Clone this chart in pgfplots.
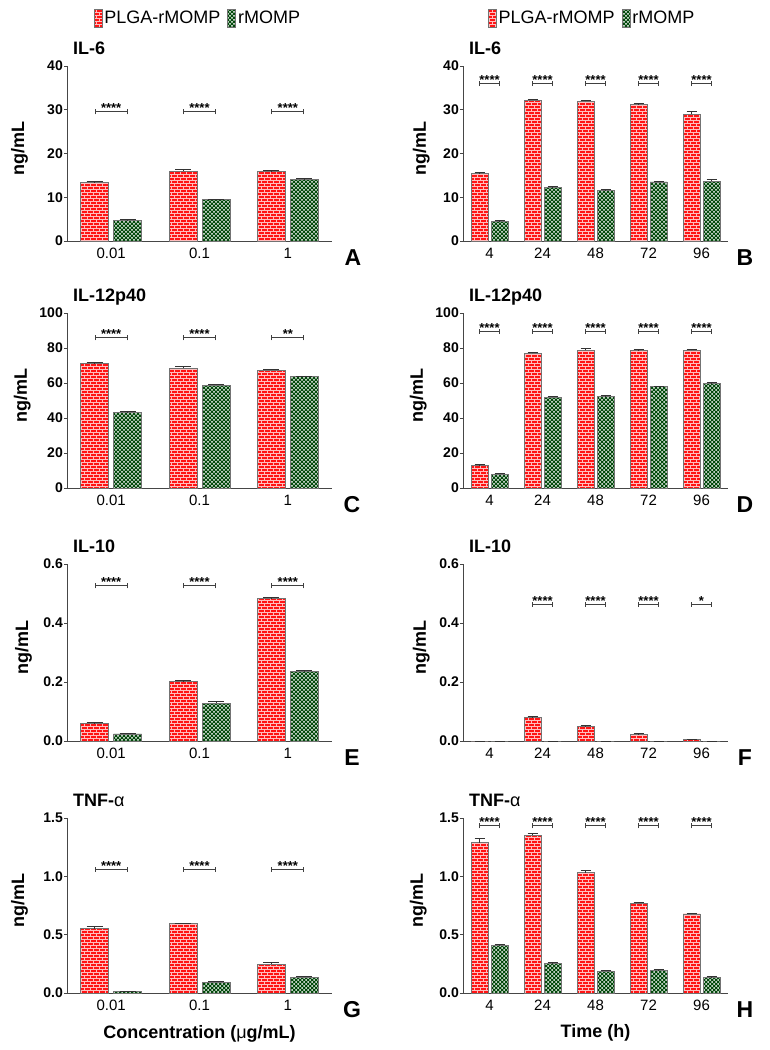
\documentclass[border=0pt]{standalone}
\usepackage{fontspec}
\setmainfont{Liberation Sans}
\usepackage{pgfplots}
\pgfplotsset{compat=1.18}
\usetikzlibrary{patterns}

\definecolor{myred}{RGB}{255,20,20}
\definecolor{mortar}{RGB}{255,190,190}
\definecolor{mygreen}{RGB}{0,72,10}
\definecolor{outl}{RGB}{115,115,115}
\definecolor{axgray}{RGB}{70,70,70}

% brick pattern for PLGA-rMOMP
\pgfdeclarepatternformonly{brk}{\pgfpoint{-0.5pt}{-0.5pt}}{\pgfpoint{6.5pt}{6.5pt}}{\pgfpoint{6pt}{6pt}}{%
  \pgfsetlinewidth{0.6pt}%
  \pgfpathmoveto{\pgfpoint{0pt}{0pt}}\pgfpathlineto{\pgfpoint{6pt}{0pt}}%
  \pgfpathmoveto{\pgfpoint{0pt}{3pt}}\pgfpathlineto{\pgfpoint{6pt}{3pt}}%
  \pgfpathmoveto{\pgfpoint{0pt}{0pt}}\pgfpathlineto{\pgfpoint{0pt}{3pt}}%
  \pgfpathmoveto{\pgfpoint{3pt}{3pt}}\pgfpathlineto{\pgfpoint{3pt}{6pt}}%
  \pgfusepath{stroke}}
% dotted lattice for rMOMP
\pgfdeclarepatternformonly{gdots}{\pgfpoint{-1.2pt}{-1.2pt}}{\pgfpoint{3.2pt}{3.2pt}}{\pgfpoint{4pt}{4pt}}{%
  \pgfpathcircle{\pgfpoint{0pt}{0pt}}{1pt}%
  \pgfpathcircle{\pgfpoint{2pt}{2pt}}{1pt}%
  \pgfusepath{fill}}

\pgfplotsset{
  panel/.style={
    scale only axis, width=265pt, height=175pt, anchor=north west,
    axis lines=left, axis line style={-, line width=1pt, color=axgray},
    clip=false, ymin=0, scaled y ticks=false,
    tick align=outside, major tick length=3pt,
    ytick style={line width=1pt, color=axgray},
    xtick style={draw=none},
    /pgf/number format/assume math mode=true,
    yticklabel style={font=\bfseries\fontsize{14}{14}\selectfont, inner sep=1pt},
    xticklabel style={font=\fontsize{15}{15}\selectfont, inner sep=0pt, yshift=-4pt},
    title style={at={(0,1)}, anchor=base west, xshift=6pt, yshift=6pt, inner sep=0pt,
      font=\bfseries\fontsize{18}{18}\selectfont},
    ylabel={ng/mL},
    ylabel style={font=\bfseries\fontsize{18}{18}\selectfont, anchor=south, inner sep=0pt},
    error bars/y dir=plus, error bars/y explicit,
    error bars/error bar style={line width=1pt, color=black!80},
  },
  conc/.style={panel, ybar=5pt, bar width=28pt, xmin=-0.5, xmax=2.5, xtick={0,1,2}, xticklabels={0.01,0.1,1},
    error bars/error mark options={rotate=90, mark size=8pt, line width=1pt, color=black!80}},
  time/.style={panel, ybar=3pt, bar width=17pt, xmin=-0.5, xmax=4.5, xtick={0,1,2,3,4}, xticklabels={4,24,48,72,96},
    error bars/error mark options={rotate=90, mark size=5pt, line width=1pt, color=black!80}},
  dec/.style={yticklabel style={/pgf/number format/.cd, fixed, fixed zerofill, precision=1}},
  redbar/.style={fill=myred, draw=outl, line width=0.8pt,
    postaction={pattern=brk, pattern color=mortar},
    legend image code/.code={\draw[##1] (0pt,-9pt) rectangle (8pt,9pt);}},
  greenbar/.style={fill=mygreen, draw=outl, line width=0.8pt,
    postaction={pattern=gdots, pattern color=white},
    legend image code/.code={\draw[##1] (0pt,-9pt) rectangle (8pt,9pt);}},
  leg/.style={legend style={legend columns=2, draw=none, fill=none, at={(axis description cs:#1,1.274)},
    anchor=center, font=\fontsize{18}{18}\selectfont, inner sep=0pt,
    /tikz/every even column/.append style={column sep=5pt}}},
}

\tikzset{sigline/.style={line width=1pt, color=black!75}}
% significance bracket: category, height, stars, half width
\newcommand\sig[4]{%
  \draw[sigline] ([xshift=-#4]axis cs:#1,#2) -- ([xshift=#4]axis cs:#1,#2);
  \draw[sigline] ([xshift=-#4,yshift=-2.5pt]axis cs:#1,#2) -- ([xshift=-#4,yshift=2.5pt]axis cs:#1,#2);
  \draw[sigline] ([xshift=#4,yshift=-2.5pt]axis cs:#1,#2) -- ([xshift=#4,yshift=2.5pt]axis cs:#1,#2);
  \node[anchor=base, inner sep=0pt, font=\bfseries\fontsize{13}{13}\selectfont] at ([yshift=-1pt]axis cs:#1,#2) {#3};}

\newcommand\panelletter[2]{\node[font=\bfseries\fontsize{23}{23}\selectfont, inner sep=0pt] at ([xshift=#2,yshift=-17pt]axis description cs:1,0) {#1};}

\begin{document}
\begin{tikzpicture}
\path[use as bounding box] (0pt,0pt) rectangle (769pt,-1050pt);

% ---------- A : IL-6, concentration ----------
\begin{axis}[conc, at={(67pt,-66pt)}, title={IL-6}, ymax=40, ytick={0,10,20,30,40},
  ylabel style={at={(axis description cs:-0.147,0.53)}}, leg=0.494]
\addplot[redbar] coordinates {(0,13.3) +- (0,0.3) (1,16.0) +- (0,0.25) (2,15.8) +- (0,0.35)};
\addplot[greenbar] coordinates {(0,4.7) +- (0,0.15) (1,9.4) +- (0,0.2) (2,14.0) +- (0,0.2)};
\legend{PLGA-rMOMP, rMOMP}
\sig{0}{29.5}{****}{16pt}
\sig{1}{29.5}{****}{16pt}
\sig{2}{29.5}{****}{16pt}
\panelletter{A}{21pt}
\end{axis}

% ---------- B : IL-6, time ----------
\begin{axis}[time, at={(463pt,-66pt)}, title={IL-6}, ymax=40, ytick={0,10,20,30,40},
  ylabel style={at={(axis description cs:-0.125,0.53)}}, leg=0.487]
\addplot[redbar] coordinates {(0,15.4) +- (0,0.15) (1,32.2) +- (0,0.2) (2,31.9) +- (0,0.25) (3,31.2) +- (0,0.15) (4,29.0) +- (0,0.5)};
\addplot[greenbar] coordinates {(0,4.5) +- (0,0.1) (1,12.2) +- (0,0.15) (2,11.6) +- (0,0.15) (3,13.5) +- (0,0.15) (4,13.7) +- (0,0.3)};
\legend{PLGA-rMOMP, rMOMP}
\sig{0}{36}{****}{10pt}
\sig{1}{36}{****}{10pt}
\sig{2}{36}{****}{10pt}
\sig{3}{36}{****}{10pt}
\sig{4}{36}{****}{10pt}
\panelletter{B}{17pt}
\end{axis}

% ---------- C : IL-12p40, concentration ----------
\begin{axis}[conc, at={(67pt,-313pt)}, title={IL-12p40}, ymax=100, ytick={0,20,40,60,80,100},
  ylabel style={at={(axis description cs:-0.136,0.53)}}]
\addplot[redbar] coordinates {(0,71.0) +- (0,0.5) (1,68.5) +- (0,1.1) (2,67.4) +- (0,0.5)};
\addplot[greenbar] coordinates {(0,43.3) +- (0,0.4) (1,58.8) +- (0,0.5) (2,63.6) +- (0,0.4)};
\sig{0}{85.8}{****}{16pt}
\sig{1}{85.8}{****}{16pt}
\sig{2}{85.8}{**}{16pt}
\panelletter{C}{20pt}
\end{axis}

% ---------- D : IL-12p40, time ----------
\begin{axis}[time, at={(463pt,-313pt)}, title={IL-12p40}, ymax=100, ytick={0,20,40,60,80,100},
  ylabel style={at={(axis description cs:-0.136,0.53)}}]
\addplot[redbar] coordinates {(0,12.9) +- (0,0.5) (1,77.0) +- (0,0.5) (2,78.7) +- (0,0.8) (3,78.6) +- (0,0.5) (4,78.6) +- (0,0.7)};
\addplot[greenbar] coordinates {(0,8.0) +- (0,0.3) (1,51.8) +- (0,0.6) (2,52.4) +- (0,0.3) (3,57.9) +- (0,0.3) (4,59.6) +- (0,0.5)};
\sig{0}{89.6}{****}{10pt}
\sig{1}{89.6}{****}{10pt}
\sig{2}{89.6}{****}{10pt}
\sig{3}{89.6}{****}{10pt}
\sig{4}{89.6}{****}{10pt}
\panelletter{D}{17pt}
\end{axis}

% ---------- E : IL-10, concentration ----------
\begin{axis}[conc, dec, at={(67pt,-564pt)}, height=177pt, title={IL-10}, ymax=0.6, ytick={0,0.2,0.4,0.6},
  ylabel style={at={(axis description cs:-0.132,0.53)}}]
\addplot[redbar] coordinates {(0,0.059) +- (0,0.003) (1,0.201) +- (0,0.004) (2,0.483) +- (0,0.002)};
\addplot[greenbar] coordinates {(0,0.024) +- (0,0.003) (1,0.128) +- (0,0.007) (2,0.236) +- (0,0.003)};
\sig{0}{0.526}{****}{16pt}
\sig{1}{0.526}{****}{16pt}
\sig{2}{0.526}{****}{16pt}
\panelletter{E}{20pt}
\end{axis}

% ---------- F : IL-10, time ----------
\begin{axis}[time, dec, at={(463pt,-564pt)}, height=177pt, title={IL-10}, ymax=0.6, ytick={0,0.2,0.4,0.6},
  ylabel style={at={(axis description cs:-0.125,0.53)}}]
\addplot[redbar] coordinates {(0,0) +- (0,0) (1,0.079) +- (0,0.004) (2,0.049) +- (0,0.004) (3,0.022) +- (0,0.004) (4,0.004) +- (0,0.002)};
\addplot[greenbar] coordinates {(0,0) +- (0,0) (1,0) +- (0,0) (2,0) +- (0,0) (3,0) +- (0,0) (4,0) +- (0,0)};
\sig{1}{0.464}{****}{10pt}
\sig{2}{0.464}{****}{10pt}
\sig{3}{0.464}{****}{10pt}
\sig{4}{0.464}{*}{10pt}
\panelletter{F}{17pt}
\end{axis}

% ---------- G : TNF-alpha, concentration ----------
\begin{axis}[conc, dec, at={(67pt,-818pt)}, title={TNF-{\mdseries α}}, ymax=1.5, ytick={0,0.5,1,1.5},
  ylabel style={at={(axis description cs:-0.147,0.53)}},
  xlabel={Concentration ({\mdseries μ}g/mL)},
  xlabel style={at={(axis description cs:0.5,0)}, anchor=base, yshift=-45pt, inner sep=0pt,
    font=\bfseries\fontsize{18}{18}\selectfont}]
\addplot[redbar] coordinates {(0,0.552) +- (0,0.022) (1,0.595) +- (0,0.005) (2,0.248) +- (0,0.01)};
\addplot[greenbar] coordinates {(0,0.011) +- (0,0.003) (1,0.094) +- (0,0.005) (2,0.137) +- (0,0.005)};
\sig{0}{1.059}{****}{16pt}
\sig{1}{1.059}{****}{16pt}
\sig{2}{1.059}{****}{16pt}
\panelletter{G}{20pt}
\end{axis}

% ---------- H : TNF-alpha, time ----------
\begin{axis}[time, dec, at={(463pt,-818pt)}, title={TNF-{\mdseries α}}, ymax=1.5, ytick={0,0.5,1,1.5},
  ylabel style={at={(axis description cs:-0.136,0.53)}},
  xlabel={Time (h)},
  xlabel style={at={(axis description cs:0.5,0)}, anchor=base, yshift=-44pt, inner sep=0pt,
    font=\bfseries\fontsize{18}{18}\selectfont}]
\addplot[redbar] coordinates {(0,1.287) +- (0,0.037) (1,1.352) +- (0,0.017) (2,1.030) +- (0,0.023) (3,0.771) +- (0,0.008) (4,0.678) +- (0,0.007)};
\addplot[greenbar] coordinates {(0,0.404) +- (0,0.008) (1,0.256) +- (0,0.005) (2,0.188) +- (0,0.006) (3,0.196) +- (0,0.005) (4,0.137) +- (0,0.004)};
\sig{0}{1.432}{****}{10pt}
\sig{1}{1.432}{****}{10pt}
\sig{2}{1.432}{****}{10pt}
\sig{3}{1.432}{****}{10pt}
\sig{4}{1.432}{****}{10pt}
\panelletter{H}{17pt}
\end{axis}
\end{tikzpicture}
\end{document}
